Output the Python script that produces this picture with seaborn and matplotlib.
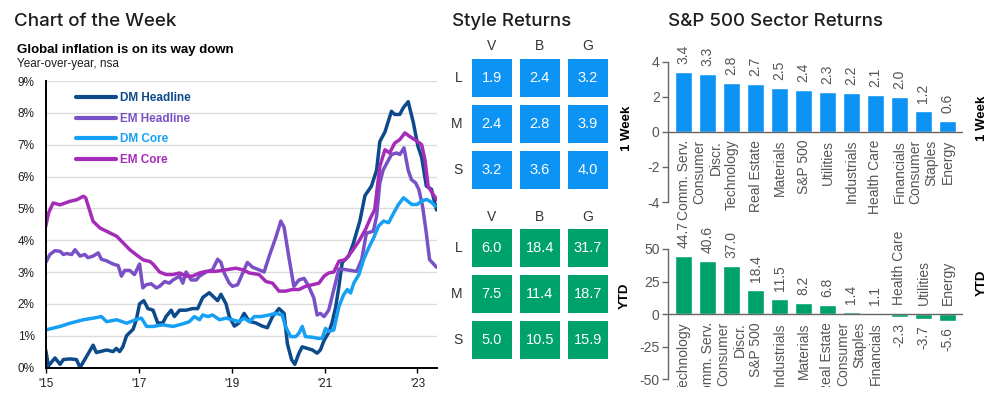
import matplotlib
matplotlib.use("Agg")
import matplotlib.pyplot as plt
import matplotlib.transforms as mtransforms
from matplotlib.colors import ListedColormap
import seaborn as sns
import pandas as pd

# === Inflation lines (year, % y/y) ===
dm_head_t = [2015.0, 2015.06, 2015.2, 2015.31, 2015.38, 2015.52, 2015.66, 2015.74, 2015.88, 2016.02,
             2016.09, 2016.31, 2016.45, 2016.52, 2016.59, 2016.66, 2016.74, 2016.88, 2016.95, 2017.02,
             2017.11, 2017.2, 2017.31, 2017.41, 2017.52, 2017.59, 2017.7, 2017.77, 2017.88, 2018.02,
             2018.16, 2018.27, 2018.38, 2018.52, 2018.59, 2018.7, 2018.77, 2018.88, 2018.95, 2019.06,
             2019.16, 2019.27, 2019.38, 2019.52, 2019.66, 2019.77, 2019.88, 2020.02, 2020.13, 2020.2,
             2020.29, 2020.36, 2020.45, 2020.52, 2020.63, 2020.74, 2020.84, 2020.91, 2020.99, 2021.09,
             2021.16, 2021.24, 2021.31, 2021.38, 2021.52, 2021.62, 2021.76, 2021.87, 2022.01, 2022.12,
             2022.19, 2022.30, 2022.44, 2022.51, 2022.62, 2022.69, 2022.80, 2022.91, 2023.01, 2023.09,
             2023.19, 2023.30, 2023.41]
dm_head_v = [0.55, 0.05, 0.3, 0.1, 0.25, 0.27, 0.25, 0.0, 0.35, 0.7,
             0.47, 0.55, 0.5, 0.6, 0.5, 0.65, 1.0, 1.2, 1.5, 2.0,
             2.1, 1.85, 1.8, 1.4, 1.4, 1.6, 1.8, 1.6, 1.8, 1.8,
             1.85, 1.85, 2.2, 2.35, 2.25, 2.1, 2.3, 2.0, 1.6, 1.3,
             1.4, 1.7, 1.45, 1.4, 1.3, 1.25, 1.6, 1.85, 1.7, 0.75,
             0.25, 0.1, 0.45, 0.65, 0.6, 0.55, 0.45, 0.55, 0.85, 1.1,
             1.4, 1.9, 2.55, 3.3, 3.5, 3.9, 4.6, 5.4, 5.7, 6.2,
             7.1, 7.4, 8.05, 7.95, 7.95, 8.15, 8.35, 7.7, 6.95, 6.6,
             5.7, 5.6, 4.95]

em_head_t = [2015.0, 2015.09, 2015.2, 2015.31, 2015.38, 2015.45, 2015.56, 2015.63, 2015.74, 2015.84,
             2015.91, 2016.02, 2016.13, 2016.2, 2016.31, 2016.45, 2016.56, 2016.63, 2016.7, 2016.81,
             2016.91, 2017.02, 2017.09, 2017.16, 2017.27, 2017.38, 2017.45, 2017.56, 2017.66, 2017.74,
             2017.88, 2017.95, 2018.02, 2018.13, 2018.24, 2018.31, 2018.45, 2018.59, 2018.7, 2018.77,
             2018.84, 2018.95, 2019.02, 2019.13, 2019.24, 2019.34, 2019.45, 2019.59, 2019.7, 2019.81,
             2019.95, 2020.06, 2020.13, 2020.24, 2020.34, 2020.45, 2020.56, 2020.66, 2020.77, 2020.84,
             2020.91, 2020.99, 2021.09, 2021.2, 2021.31, 2021.47, 2021.69, 2021.80, 2021.90, 2022.05,
             2022.12, 2022.19, 2022.26, 2022.37, 2022.44, 2022.55, 2022.62, 2022.71, 2022.80, 2022.87,
             2022.96, 2023.03, 2023.11, 2023.19, 2023.26, 2023.41]
em_head_v = [3.3, 3.55, 3.67, 3.65, 3.55, 3.58, 3.55, 3.7, 3.5, 3.55,
             3.45, 3.5, 3.6, 3.4, 3.35, 3.25, 3.2, 2.87, 3.05, 3.05,
             2.92, 3.25, 2.5, 2.6, 2.63, 2.5, 2.55, 2.7, 2.65, 2.75,
             2.87, 2.65, 3.0, 2.75, 2.75, 2.87, 3.0, 3.07, 3.4, 3.3,
             2.97, 2.65, 2.55, 2.6, 2.97, 3.3, 3.15, 3.07, 3.0, 3.5,
             4.08, 4.6, 4.4, 3.4, 2.55, 2.75, 2.8, 2.55, 2.18, 1.65,
             1.7, 1.6, 1.8, 2.45, 3.1, 3.07, 3.02, 3.39, 4.22, 4.28,
             4.75, 5.8, 6.2, 6.5, 6.69, 6.74, 6.69, 6.9, 6.2, 5.9,
             5.8, 5.59, 5.06, 4.22, 3.39, 3.15]

dm_core_t = [2015.0, 2015.31, 2015.52, 2015.81, 2016.02, 2016.2, 2016.31, 2016.53, 2016.74, 2016.95,
             2017.06, 2017.17, 2017.31, 2017.52, 2017.74, 2017.95, 2018.09, 2018.2, 2018.31, 2018.38,
             2018.49, 2018.59, 2018.74, 2018.88, 2019.02, 2019.16, 2019.27, 2019.38, 2019.49, 2019.63,
             2019.81, 2019.95, 2020.09, 2020.16, 2020.27, 2020.38, 2020.45, 2020.52, 2020.59, 2020.74,
             2020.88, 2020.95, 2021.02, 2021.09, 2021.2, 2021.31, 2021.41, 2021.49, 2021.56, 2021.63,
             2021.74, 2021.84, 2021.95, 2022.06, 2022.16, 2022.27, 2022.38, 2022.49, 2022.59, 2022.7,
             2022.88, 2022.99, 2023.09, 2023.2, 2023.31, 2023.38]
dm_core_v = [1.18, 1.29, 1.39, 1.5, 1.55, 1.6, 1.44, 1.5, 1.39, 1.51,
             1.55, 1.29, 1.29, 1.34, 1.29, 1.37, 1.44, 1.6, 1.5, 1.65,
             1.6, 1.65, 1.5, 1.55, 1.5, 1.44, 1.55, 1.44, 1.6, 1.6,
             1.65, 1.7, 1.65, 1.29, 0.97, 0.97, 1.08, 1.29, 0.97, 0.95,
             0.91, 0.92, 1.23, 1.13, 1.18, 1.92, 2.28, 2.45, 2.34, 2.65,
             2.92, 3.39, 3.76, 4.08, 4.44, 4.6, 4.55, 4.86, 5.12, 5.33,
             5.12, 5.12, 5.23, 5.28, 5.18, 5.07]

em_core_t = [2015.0, 2015.06, 2015.16, 2015.31, 2015.52, 2015.67, 2015.81, 2015.86, 2016.02, 2016.17,
             2016.31, 2016.53, 2016.67, 2016.81, 2016.95, 2017.10, 2017.24, 2017.31, 2017.45, 2017.59,
             2017.74, 2017.88, 2018.02, 2018.16, 2018.31, 2018.45, 2018.66, 2018.88, 2019.09, 2019.24,
             2019.38, 2019.59, 2019.74, 2019.88, 2020.02, 2020.16, 2020.31, 2020.45, 2020.59, 2020.74,
             2020.88, 2020.99, 2021.09, 2021.2, 2021.31, 2021.45, 2021.59, 2021.74, 2021.88, 2021.99,
             2022.08, 2022.19, 2022.30, 2022.40, 2022.51, 2022.62, 2022.73, 2022.83, 2022.94, 2023.09,
             2023.16, 2023.23, 2023.34, 2023.42]
em_core_v = [4.43, 4.85, 5.17, 5.11, 5.22, 5.27, 5.38, 5.33, 4.59, 4.38,
             4.28, 4.12, 3.91, 3.7, 3.54, 3.38, 3.33, 3.25, 3.0, 2.92,
             2.92, 2.97, 2.87, 2.87, 2.97, 3.02, 3.02, 3.07, 3.12, 3.07,
             2.97, 2.92, 2.7, 2.65, 2.4, 2.4, 2.45, 2.45, 2.55, 2.6,
             2.65, 2.87, 2.97, 3.0, 3.34, 3.39, 3.65, 3.97, 4.33, 4.7,
             4.96, 6.32, 6.84, 6.74, 7.05, 7.16, 7.37, 7.26, 7.16, 7.0,
             6.53, 5.69, 5.43, 5.27]

series_names = ["DM Headline", "EM Headline", "DM Core", "EM Core"]
series_colors = ["#0d4a8b", "#7a50c6", "#16a0f3", "#a52cb9"]
year_ticks = [2015, 2017, 2019, 2021, 2023]
year_labels = ["'15", "'17", "'19", "'21", "'23"]

# === Style returns (rows L/M/S, cols V/B/G) ===
style_cols = ["V", "B", "G"]
style_rows = ["L", "M", "S"]
style_week = [[1.9, 2.4, 3.2], [2.4, 2.8, 3.9], [3.2, 3.6, 4.0]]
style_ytd = [[6.0, 18.4, 31.7], [7.5, 11.4, 18.7], [5.0, 10.5, 15.9]]

# === Sector returns ===
week_sectors = ["Comm. Serv.", "Consumer\nDiscr.", "Technology", "Real Estate", "Materials", "S&P 500",
                "Utilities", "Industrials", "Health Care", "Financials", "Consumer\nStaples", "Energy"]
week_returns = [3.4, 3.3, 2.8, 2.7, 2.5, 2.4, 2.3, 2.2, 2.1, 2.0, 1.2, 0.6]
ytd_sectors = ["Technology", "Comm. Serv.", "Consumer\nDiscr.", "S&P 500", "Industrials", "Materials",
               "Real Estate", "Consumer\nStaples", "Financials", "Health Care", "Utilities", "Energy"]
ytd_returns = [44.7, 40.6, 37.0, 18.4, 11.5, 8.2, 6.8, 1.4, 1.1, -2.3, -3.7, -5.6]

BLUE = "#0c93f3"
GREEN = "#00a26b"
DARK = "#1e1e1e"
GRAY = "#555555"

sns.set_theme(style="white")
plt.rcParams["font.family"] = ["Liberation Sans", "DejaVu Sans"]

W, H = 1005, 401
fig = plt.figure(figsize=(W / 100, H / 100), dpi=100)


def box(x0, y0, x1, y1):
    # pixel box (top-left origin) -> figure fraction rect
    return [x0 / W, 1 - y1 / H, (x1 - x0) / W, (y1 - y0) / H]


# === Headers ===
for x, s in [(14, "Chart of the Week"), (452, "Style Returns"), (668, "S&P 500 Sector Returns")]:
    fig.text(x / W, 1 - 26 / H, s, family=["Inter", "DejaVu Sans"], size=13.5,
             weight="medium", color=DARK, va="baseline")
fig.text(17 / W, 1 - 53 / H, "Global inflation is on its way down", size=9.5, weight="bold",
         color="black", va="baseline")
fig.text(17 / W, 1 - 67 / H, "Year-over-year, nsa", size=8.5, color=DARK, va="baseline")

# === Line chart ===
ax = fig.add_axes(box(45.7, 81, 437, 367.5))
frames = []
for name, t, v in [("DM Headline", dm_head_t, dm_head_v), ("EM Headline", em_head_t, em_head_v),
                   ("DM Core", dm_core_t, dm_core_v), ("EM Core", em_core_t, em_core_v)]:
    frames.append(pd.DataFrame({"year": t, "value": v, "series": name}))
df = pd.concat(frames, ignore_index=True)
sns.lineplot(data=df, x="year", y="value", hue="series", hue_order=series_names,
             palette=dict(zip(series_names, series_colors)), estimator=None,
             linewidth=2.5, ax=ax, legend=False)
ax.set_xlim(2015, 2023.42)
ax.set_ylim(0, 9)
ax.set_yticks(range(0, 10))
ax.set_yticklabels([f"{i}%" for i in range(0, 10)])
ax.set_xticks(year_ticks)
ax.set_xticklabels(year_labels)
ax.set_xlabel("")
ax.set_ylabel("")
ax.grid(axis="y", color="#dcdcdc", linewidth=1)
ax.set_axisbelow(True)
for s in ["top", "right"]:
    ax.spines[s].set_visible(False)
for s in ["left", "bottom"]:
    ax.spines[s].set_color("black")
    ax.spines[s].set_linewidth(1.4)
ax.tick_params(axis="y", length=0, pad=8, labelsize=8.5, labelcolor=DARK)
ax.tick_params(axis="x", length=3.5, width=1, color="black", pad=4, labelsize=8.5,
               labelcolor=DARK, direction="out", bottom=True)
handles = [plt.Line2D([], [], color=c, linewidth=3) for c in series_colors]
leg = ax.legend(handles, series_names, loc="upper left", bbox_to_anchor=(0.078, 0.96),
                frameon=False, handlelength=3.4, handletextpad=0.35, labelspacing=0.72,
                borderpad=0, borderaxespad=0, prop={"weight": "bold", "size": 8.5},
                labelcolor="linecolor")

# === Style heatmaps ===
def style_heat(rect, values, color):
    hax = fig.add_axes(rect)
    data = pd.DataFrame(values, index=style_rows, columns=style_cols)
    sns.heatmap(data, ax=hax, cmap=ListedColormap([color]), cbar=False, annot=True, fmt=".1f",
                annot_kws={"color": "white", "size": 10.5}, linewidths=5.5, linecolor="white")
    hax.xaxis.tick_top()
    hax.tick_params(length=0, labelsize=10, labelcolor="#333333")
    hax.tick_params(axis="x", pad=1)
    hax.tick_params(axis="y", pad=4, rotation=0)
    hax.set_xlabel("")
    hax.set_ylabel("")
    return hax

style_heat(box(467.7, 54.7, 611.7, 193), style_week, BLUE)
style_heat(box(467.7, 225, 611.7, 362.5), style_ytd, GREEN)

# === Sector bars ===
def sector_bars(rect, sectors, values, color, ylim, yticks, spine_lim, clip_labels):
    bax = fig.add_axes(rect)
    sns.barplot(x=list(range(len(sectors))), y=values, color=color, width=0.7,
                saturation=1, ax=bax)
    bax.set_xlim(-0.65, len(sectors) - 0.35)
    bax.set_ylim(*ylim)
    bax.set_yticks(yticks)
    bax.set_yticklabels([str(t) for t in yticks])
    bax.set_xticks([])
    bax.axhline(0, color="#666666", linewidth=1)
    for s in ["top", "right", "bottom"]:
        bax.spines[s].set_visible(False)
    bax.spines["left"].set_color("#666666")
    bax.spines["left"].set_linewidth(1)
    bax.spines["left"].set_bounds(*spine_lim)
    bax.tick_params(axis="y", left=True, length=4, width=1, color="#666666", pad=2,
                    labelsize=10, labelcolor=GRAY)
    up = lambda d: mtransforms.offset_copy(bax.transData, fig=fig, x=0, y=d, units="dots")
    for i, (name, v) in enumerate(zip(sectors, values)):
        txt = dict(rotation=90, ha="center", size=10, color=GRAY, multialignment="right")
        if v >= 0:
            bax.text(i, v, f"{v:.1f}", va="bottom", transform=up(8), **txt)
            bax.text(i, 0, name, va="top", transform=up(-8), clip_on=clip_labels, **txt)
        else:
            bax.text(i, v, f"{v:.1f}", va="top", transform=up(-6), **txt)
            bax.text(i, 0, name, va="bottom", transform=up(9), **txt)
    return bax

sector_bars(box(668, 61.7, 963, 202), week_sectors, week_returns, BLUE,
            (-4, 4), [-4, -2, 0, 2, 4], (-4, 4), False)
sector_bars(box(668, 249, 963, 387), ytd_sectors, ytd_returns, GREEN,
            (-55.9, 50), [-50, -25, 0, 25, 50], (-50, 50), True)

for x, y, s in [(627, 128, "1 Week"), (982, 118, "1 Week"), (625, 296, "YTD"), (982, 283, "YTD")]:
    fig.text(x / W, 1 - y / H, s, rotation=90, ha="center", va="center", weight="bold",
             size=9.5, color="black")

fig.savefig("out.png", dpi=100)
print("saved out.png")
